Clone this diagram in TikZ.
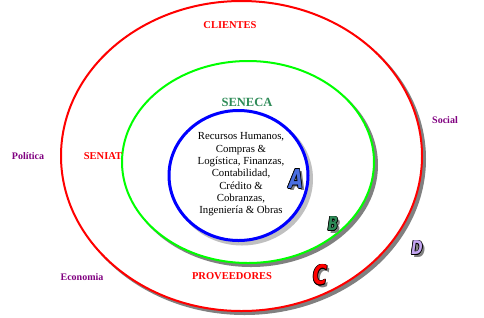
\documentclass[tikz,border=0pt]{standalone}
\usepackage{fontspec}
\setmainfont{Liberation Serif}
\newfontfamily\letterfont{DejaVu Sans Condensed}
\definecolor{senecagreen}{HTML}{2E8B57}
\definecolor{purp}{HTML}{800080}
\definecolor{abluefill}{HTML}{4A6FE0}
\definecolor{dlav}{HTML}{C4A6F2}
\definecolor{shadowgray}{HTML}{808080}
\definecolor{lightgray2}{HTML}{C0C0C0}
\tikzset{
  redlabel/.style={text=red, font=\fontsize{10.5}{12}\selectfont\bfseries, inner sep=0pt},
  purplabel/.style={text=purp, font=\fontsize{10}{12}\selectfont\bfseries, inner sep=0pt},
  biglet/.style={font=\letterfont\bfseries\itshape\fontsize{#1}{#1}\selectfont, inner sep=0pt, xscale=0.8},
}
\newcommand{\outletter}[6]{% name, x, y, color, letter, size
  \node[biglet=#6, text=shadowgray] at (#2+2.5,#3+2.5) {#5};
  \foreach \dx/\dy in {-0.7/0,0.7/0,0/-0.7,0/0.7,-0.5/-0.5,0.5/0.5,-0.5/0.5,0.5/-0.5}
    \node[biglet=#6, text=black] at (#2+\dx,#3+\dy) {#5};
  \node[biglet=#6, text=#4] (#1) at (#2,#3) {#5};
}
\begin{document}
\begin{tikzpicture}[x=1pt,y=-1pt]
\useasboundingbox (0,0) rectangle (484,317);
% red ellipse with drop shadow
\fill[shadowgray] (244.5,159) ellipse [x radius=181.5pt, y radius=156pt];
\draw[red, line width=2pt, fill=white] (241.5,156) ellipse [x radius=180.5pt, y radius=155pt];
% green ellipse with drop shadow
\fill[shadowgray] (251,165) ellipse [x radius=127pt, y radius=102pt];
\draw[green, line width=2pt, fill=white] (248,162) ellipse [x radius=126pt, y radius=101pt];
% blue ellipse with drop shadow
\fill[lightgray2] (242,179) ellipse [x radius=71pt, y radius=66.5pt];
\draw[blue, line width=3pt, fill=white] (238.5,175.5) ellipse [x radius=69.5pt, y radius=65pt];
% labels
\node[redlabel] (clientes) at (230,25) {CLIENTES};
\node[text=senecagreen, font=\fontsize{12.5}{14}\selectfont\bfseries, inner sep=0pt] (seneca) at (247,102) {SENECA};
\node[redlabel] (seniat) at (103,156) {SENIAT};
\node[redlabel] (proveedores) at (232,276) {PROVEEDORES};
\node[purplabel] (politica) at (28,156) {Política};
\node[purplabel] (economia) at (82,277) {Economia};
\node[purplabel] (social) at (445,120) {Social};
\node[align=center, font=\fontsize{10.8}{12.3}\selectfont, inner sep=0pt] (areas) at (241,174.5)
  {Recursos Humanos,\\Compras \&\\Logística, Finanzas,\\Contabilidad,\\Crédito \&\\Cobranzas,\\Ingeniería \& Obras};
% letters
\outletter{la}{296}{179}{abluefill}{A}{26}
\outletter{lb}{333}{224}{senecagreen}{B}{19}
\outletter{lc}{320}{275}{red}{C}{27}
\outletter{ld}{417}{248}{dlav}{D}{19}
\end{tikzpicture}
\end{document}
